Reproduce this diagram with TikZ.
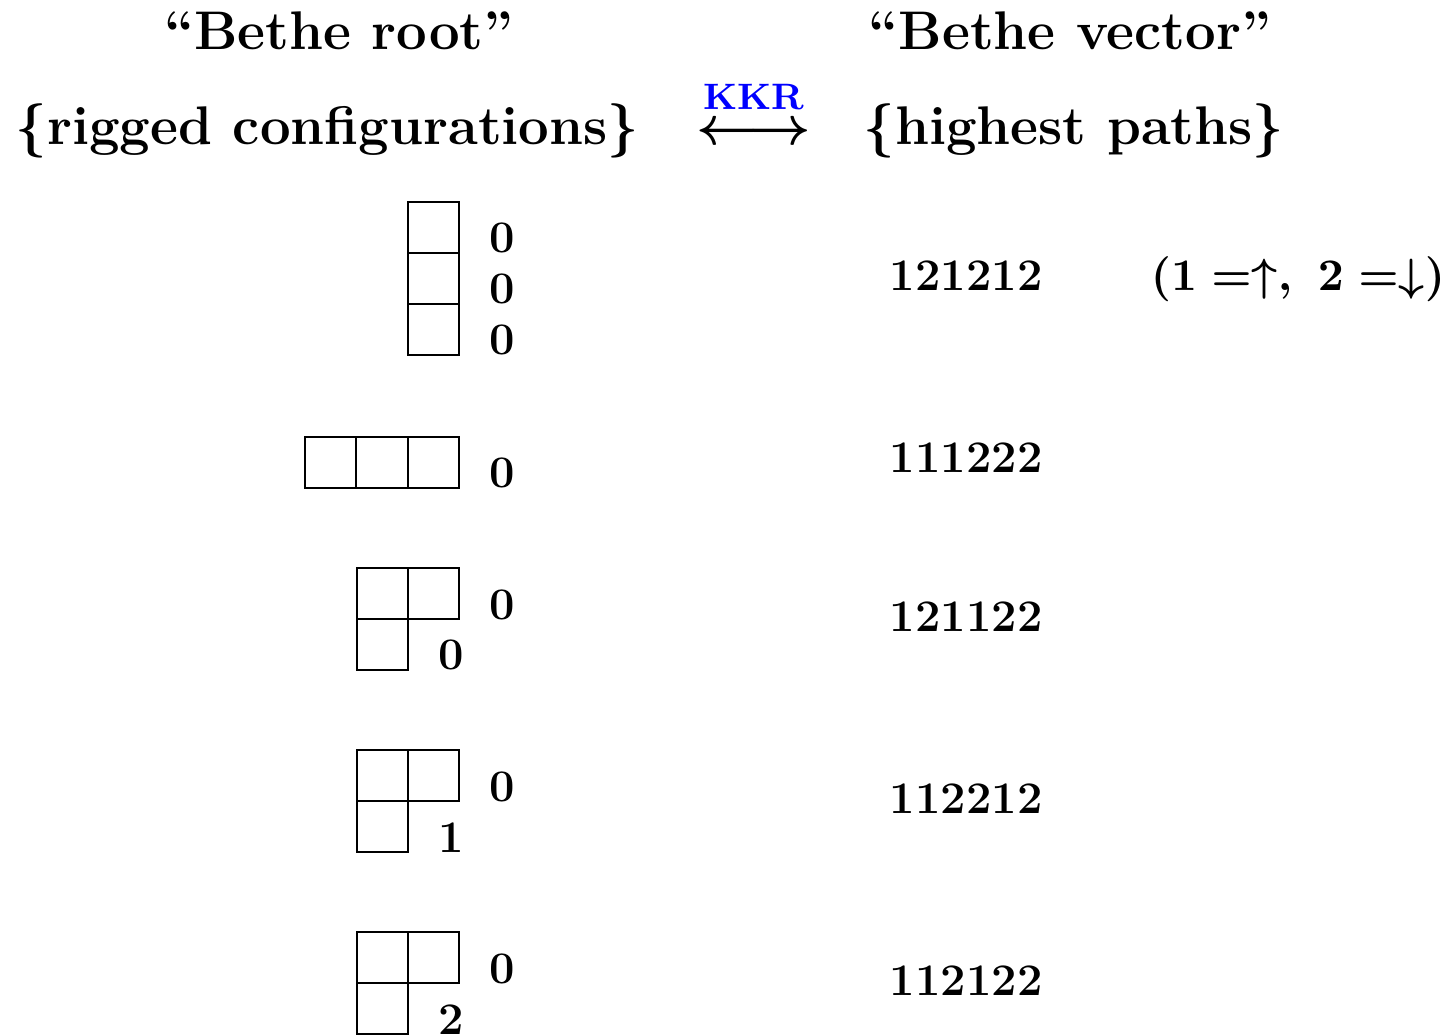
\documentclass[tikz,border=0pt]{standalone}
\usepackage{fix-cm}
\usepackage{amsmath}
\begin{document}
\begin{tikzpicture}[x=0.25pt,y=-0.25pt,
  head/.style={inner sep=0pt, anchor=base, font=\fontsize{13.6}{16}\selectfont\bfseries\boldmath},
  num/.style={inner sep=0pt, anchor=base, font=\fontsize{11.3}{13}\selectfont\bfseries\boldmath},
  word/.style={inner sep=0pt, anchor=base west, font=\fontsize{11.3}{13}\selectfont\bfseries\boldmath},
  cell/.style={draw, line width=0.4pt}]
\useasboundingbox (0,0) rectangle (1445,1036);
% headings
\node[head] (br) at (339,50) {``Bethe root''};
\node[head] (rc) at (327.5,145) {$\{$rigged configurations$\}$};
\node[head] (bv) at (1070,50) {``Bethe vector''};
\node[head] (hp) at (1074,145) {$\{$highest paths$\}$};
\node[head] (arr) at (754,145) {$\longleftrightarrow$};
\node[inner sep=0pt, anchor=base, text=blue, font=\fontsize{9.2}{11}\selectfont\bfseries] (kkr) at (754,110) {KKR};
% row 1
\draw[cell] (408,202) rectangle (459,253);
\draw[cell] (408,253) rectangle (459,304);
\draw[cell] (408,304) rectangle (459,355);
\node[num] (r1a) at (502,253) {0};
\node[num] (r1b) at (502,304) {0};
\node[num] (r1c) at (502,355) {0};
\node[word] (p1) at (889,291) {121212};
\node[word] (leg) at (1150,291) {$(\mathbf{1}=\uparrow,\ \mathbf{2}=\downarrow)$};
% row 2
\draw[cell] (305,437) rectangle (356,488);
\draw[cell] (356,437) rectangle (408,488);
\draw[cell] (408,437) rectangle (459,488);
\node[num] (r2a) at (502,488) {0};
\node[word] (p2) at (889,473) {111222};
% row 3
\draw[cell] (357,568) rectangle (408,619);
\draw[cell] (408,568) rectangle (459,619);
\draw[cell] (357,619) rectangle (408,670);
\node[num] (r3a) at (502,619) {0};
\node[num] (r3b) at (451,670) {0};
\node[word] (p3) at (889,631) {121122};
% row 4
\draw[cell] (357,750) rectangle (408,801);
\draw[cell] (408,750) rectangle (459,801);
\draw[cell] (357,801) rectangle (408,852);
\node[num] (r4a) at (502,801) {0};
\node[num] (r4b) at (451,852) {1};
\node[word] (p4) at (889,813) {112212};
% row 5
\draw[cell] (357,932) rectangle (408,983);
\draw[cell] (408,932) rectangle (459,983);
\draw[cell] (357,983) rectangle (408,1034);
\node[num] (r5a) at (502,983) {0};
\node[num] (r5b) at (451,1034) {2};
\node[word] (p5) at (889,995) {112122};
\end{tikzpicture}
\end{document}
